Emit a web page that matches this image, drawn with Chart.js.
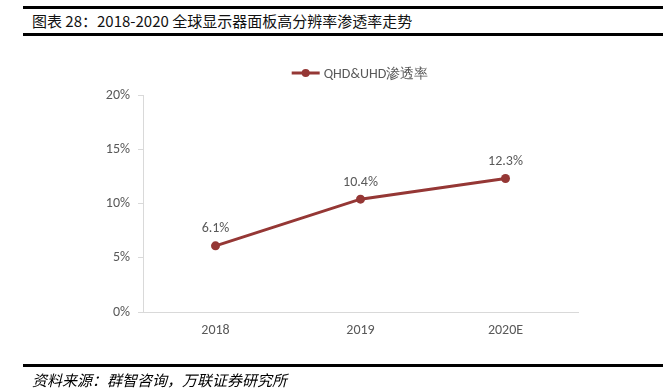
<!DOCTYPE html>
<html>
<head>
<meta charset="utf-8">
<script src="https://cdn.jsdelivr.net/npm/chart.js@4"></script>
<style>
  html, body { margin: 0; padding: 0; background: #fff; }
  #wrap { position: relative; width: 663px; height: 391px; overflow: hidden; }
  #chart { position: absolute; left: 0; top: 0; }
  .rule { position: absolute; left: 23px; right: 0; height: 3px; background: #000; }
  #title { position: absolute; left: 32px; top: 10px; font: 15px "Noto Sans CJK SC", sans-serif; color: #111; }
  #foot { position: absolute; left: 32px; top: 369px; font: italic 15px "Noto Sans CJK SC", serif; color: #000; }
</style>
</head>
<body>
<div id="wrap">
  <div class="rule" style="top:6px"></div>
  <div id="title">图表 28：2018-2020 全球显示器面板高分辨率渗透率走势</div>
  <div class="rule" style="top:33px"></div>
  <canvas id="chart" width="663" height="391"></canvas>
  <div class="rule" style="top:364px"></div>
  <div id="foot">资料来源：群智咨询，万联证券研究所</div>
</div>
<script>
// data
const years = ["2018", "2019", "2020E"]
const penetration = [6.1, 10.4, 12.3]
const yTicks = [0, 5, 10, 15, 20]
const seriesName = "QHD&UHD渗透率"

const lineColor = "#953735"
const textGray = "#595959"
const fontFam = "Calibri, Carlito, 'Open Sans', sans-serif"

// value labels above each point
const pointLabels = {
  id: "pointLabels",
  afterDatasetsDraw(chart) {
    const ctx = chart.ctx
    const meta = chart.getDatasetMeta(0)
    ctx.save()
    ctx.font = "14px " + fontFam
    ctx.fillStyle = textGray
    ctx.textAlign = "center"
    ctx.textBaseline = "bottom"
    meta.data.forEach((pt, i) => {
      ctx.fillText(penetration[i].toFixed(1) + "%", pt.x, pt.y - 10)
    })
    ctx.restore()
  },
}

// legend: short line with a dot, then the name
const lineLegend = {
  id: "lineLegend",
  afterDraw(chart) {
    const ctx = chart.ctx
    ctx.save()
    ctx.font = "14px " + fontFam
    const w = ctx.measureText(seriesName).width
    const total = 28 + 4 + w
    const x0 = 360 - total / 2
    const y = 73
    ctx.strokeStyle = lineColor
    ctx.lineWidth = 3
    ctx.beginPath()
    ctx.moveTo(x0, y)
    ctx.lineTo(x0 + 28, y)
    ctx.stroke()
    ctx.fillStyle = lineColor
    ctx.beginPath()
    ctx.arc(x0 + 14, y, 4, 0, Math.PI * 2)
    ctx.fill()
    ctx.fillStyle = textGray
    ctx.textBaseline = "middle"
    ctx.fillText(seriesName, x0 + 32, y + 1)
    ctx.restore()
  },
}

new Chart(document.getElementById("chart"), {
  type: "line",
  data: {
    labels: years,
    datasets: [
      {
        label: seriesName,
        data: penetration,
        borderColor: lineColor,
        backgroundColor: lineColor,
        borderWidth: 3,
        pointRadius: 4.5,
        pointBackgroundColor: lineColor,
        pointBorderWidth: 0,
        tension: 0,
      },
    ],
  },
  options: {
    responsive: false,
    animation: false,
    layout: { padding: { left: 0, right: 85, top: 95, bottom: 49 } },
    plugins: {
      legend: { display: false },
      tooltip: { enabled: false },
    },
    scales: {
      x: {
        offset: true,
        grid: { display: false, drawTicks: false },
        border: { color: "#d9d9d9", width: 1 },
        ticks: {
          color: textGray,
          font: { family: fontFam, size: 14 },
          padding: 10,
        },
        afterFit: (s) => { s.height = 30 },
      },
      y: {
        min: 0,
        max: 20,
        afterBuildTicks: (s) => { s.ticks = yTicks.map((v) => ({ value: v })) },
        grid: {
          display: true,
          drawOnChartArea: false,
          drawTicks: true,
          tickLength: 5,
          color: "#d9d9d9",
        },
        border: { color: "#d9d9d9", width: 1 },
        ticks: {
          color: textGray,
          font: { family: fontFam, size: 14 },
          padding: 8,
          callback: (v) => v + "%",
        },
        afterFit: (s) => { s.width = 143 },
      },
    },
  },
  plugins: [pointLabels, lineLegend],
})
</script>
</body>
</html>
